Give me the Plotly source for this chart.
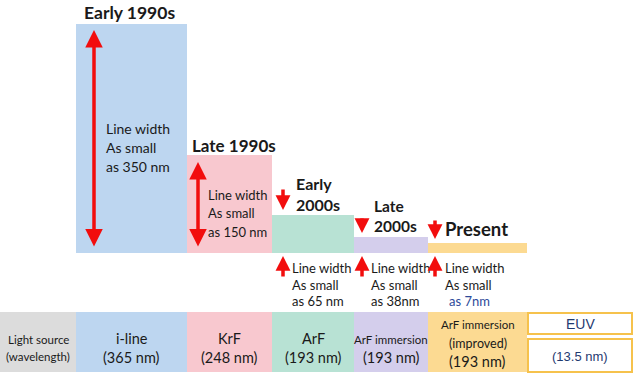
import plotly.graph_objects as go

# ---------------- data ----------------
eras = ["Early 1990s", "Late 1990s", "Early<br>2000s", "Late<br>2000s", "Present"]
line_width_nm = [350, 150, 65, 38, 7]
bar_height = [350, 150, 58, 25, 15]          # displayed step heights
sources = ["i-line", "KrF", "ArF", "ArF immersion", "ArF immersion<br>(improved)", "EUV"]
wavelengths = ["365 nm", "248 nm", "193 nm", "193 nm", "193 nm", "13.5 nm"]

# ---------------- layout constants ----------------
W, H = 640, 377
edges = [76, 187, 272, 354, 428, 527, 632]
colors = ["#BDD6F0", "#F8C8CF", "#B8E2D4", "#D4CEEC", "#FCDA92"]
RED = "#F20D0D"
FONT = "Lato"
K = 0.654            # pixels per unit on the value axis
BASE_PX = 253        # pixel row of value 0


def Y(py):
    return (BASE_PX - py) / K


centers = [(edges[i] + edges[i + 1]) / 2 for i in range(len(edges) - 1)]
widths = [edges[i + 1] - edges[i] for i in range(len(edges) - 1)]

fig = go.Figure()

# step bars
fig.add_trace(go.Bar(
    x=centers[:5], y=bar_height, width=widths[:5], base=0,
    marker=dict(color=colors, line=dict(width=0)),
    hoverinfo="skip", showlegend=False))

# light-source strip
strip_top, strip_bot = 312, 372
fig.add_trace(go.Bar(
    x=[38] + centers[:5], y=[(strip_bot - strip_top) / K] * 6,
    width=[76] + widths[:5], base=Y(strip_bot),
    marker=dict(color=["#DCDCDC"] + colors, line=dict(width=0)),
    hoverinfo="skip", showlegend=False))

# EUV boxes
for top, bot in [(313, 334), (339, 372)]:
    fig.add_shape(type="rect", xref="x", yref="y", x0=edges[5] + 1, x1=edges[6],
                  y0=Y(bot), y1=Y(top), line=dict(color="#F6C24C", width=2),
                  fillcolor="white", layer="above")

ann = []


def txt(x, py, s, size=13, bold=False, color="#1a1a1a", anchor="left", family=FONT):
    ann.append(dict(x=x, y=Y(py), xref="x", yref="y", text=(f"<b>{s}</b>" if bold else s),
                    showarrow=False, xanchor=anchor, yanchor="middle", align="left" if anchor == "left" else "center",
                    font=dict(family=family, size=size, color=color)))


def arrow(x, tail_py, head_py, both=False, width=3.5, size=1.0):
    ann.append(dict(x=x, y=Y(head_py), ax=x, ay=Y(tail_py), xref="x", yref="y",
                    axref="x", ayref="y", text="", showarrow=True,
                    arrowhead=2, startarrowhead=2, arrowsize=size, startarrowsize=size,
                    arrowwidth=width, arrowcolor=RED,
                    arrowside="end+start" if both else "end"))


# headers
txt(82, 12, eras[0], 17.5, True)
txt(190, 145, eras[1], 17, True)
txt(294, 194, eras[2], 16, True)
txt(372, 215.5, eras[3], 15.5, True)
txt(443, 229, eras[4], 18.5, True)

# big double arrows
arrow(94, 248, 30, both=True)
arrow(198, 248, 162, both=True)

# labels inside tall bars
for i, (x0, lines, fs) in enumerate([(104, [128, 147, 166], 14), (206, [195, 213, 232], 13)]):
    txt(x0, lines[0], "Line width", fs)
    txt(x0, lines[1], "As small", fs)
    txt(x0, lines[2], f"as {line_width_nm[i]} nm", fs)

# short down arrows above small steps
arrow(283, 188, 210, width=3.5, size=0.85)
arrow(362, 217, 233, width=3.5, size=0.85)
arrow(435, 219, 239, width=3.5, size=0.85)

# up arrows + labels below small steps
for i, (ax_, tx) in enumerate([(283, 290), (362, 369), (435, 443)]):
    arrow(ax_, 278, 256, width=3.5, size=0.85)
    txt(tx, 268, "Line width", 13)
    txt(tx, 285, "As small", 13)
    nm = line_width_nm[i + 2]
    if i == 2:
        txt(tx + 4, 301, f"as {nm}nm", 13, color="#2D4A9A")
    elif i == 1:
        txt(tx, 301, f"as {nm}nm", 13)
    else:
        txt(tx, 301, f"as {nm} nm", 13)

# strip text
txt(38, 339, "Light source", 11.5, anchor="center")
txt(38, 356, "(wavelength)", 11.5, anchor="center")
for i in range(3):
    txt(centers[i], 338, sources[i], 14.5, anchor="center")
    txt(centers[i], 357, f"({wavelengths[i]})", 14.5, anchor="center")
txt(centers[3], 339, sources[3], 11.5, anchor="center")
txt(centers[3], 357, f"({wavelengths[3]})", 14.5, anchor="center")
txt(centers[4], 324, "ArF immersion", 11.5, anchor="center")
txt(centers[4], 343, "(improved)", 12.5, anchor="center")
txt(centers[4], 361, f"({wavelengths[4]})", 14.5, anchor="center")
txt(580, 324, sources[5], 14, color="#1F3A70", anchor="center", family="Liberation Sans")
txt(580, 356, f"({wavelengths[5]})", 13, color="#1F3A70", anchor="center", family="Liberation Sans")

fig.update_layout(
    width=W, height=H, margin=dict(l=0, r=0, t=0, b=0),
    paper_bgcolor="white", plot_bgcolor="white",
    xaxis=dict(range=[0, W], visible=False, fixedrange=True),
    yaxis=dict(range=[Y(H), Y(0)], visible=False, fixedrange=True),
    barmode="overlay", bargap=0, annotations=ann, showlegend=False)

fig.write_html("out.html", config={"displayModeBar": False},
               post_script="document.body.style.margin='0';")
